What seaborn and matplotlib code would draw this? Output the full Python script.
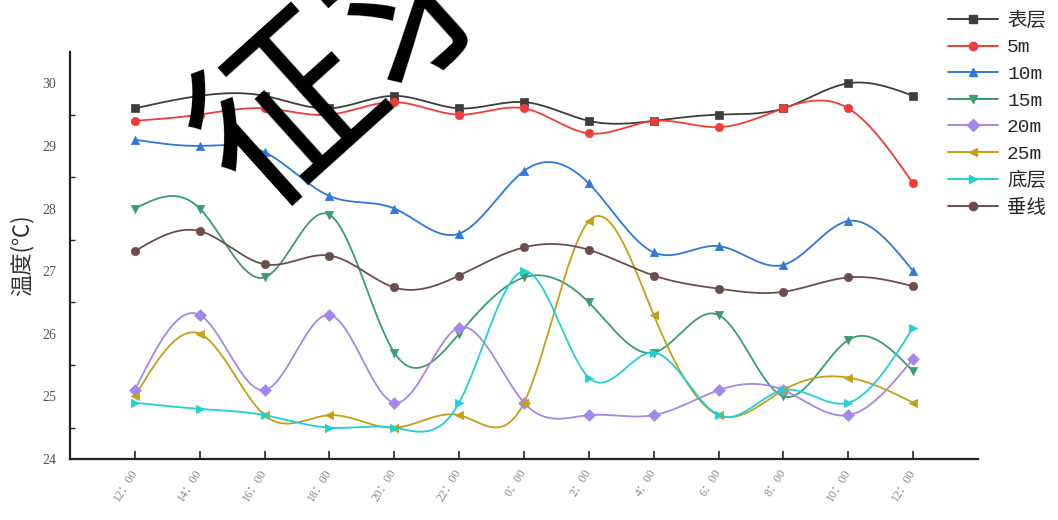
import numpy as np
import pandas as pd
import matplotlib
matplotlib.use("Agg")
import matplotlib.pyplot as plt
from matplotlib.lines import Line2D
from matplotlib.transforms import ScaledTranslation
import seaborn as sns

times = ["12：00", "14：00", "16：00", "18：00", "20：00", "22：00", "0：00",
         "2：00", "4：00", "6：00", "8：00", "10：00", "12：00"]
series_names = ["表层", "5m", "10m", "15m", "20m", "25m", "底层", "垂线"]
surface = [29.6, 29.8, 29.8, 29.6, 29.8, 29.6, 29.7, 29.4, 29.4, 29.5, 29.6, 30.0, 29.8]
d5 = [29.4, 29.5, 29.6, 29.5, 29.7, 29.5, 29.6, 29.2, 29.4, 29.3, 29.6, 29.6, 28.4]
d10 = [29.1, 29.0, 28.9, 28.2, 28.0, 27.6, 28.6, 28.4, 27.3, 27.4, 27.1, 27.8, 27.0]
d15 = [28.0, 28.0, 26.9, 27.9, 25.7, 26.0, 26.9, 26.5, 25.7, 26.3, 25.0, 25.9, 25.4]
d20 = [25.1, 26.3, 25.1, 26.3, 24.9, 26.1, 24.9, 24.7, 24.7, 25.1, 25.1, 24.7, 25.6]
d25 = [25.0, 26.0, 24.7, 24.7, 24.5, 24.7, 24.9, 27.8, 26.3, 24.7, 25.1, 25.3, 24.9]
bottom = [24.9, 24.8, 24.7, 24.5, 24.5, 24.9, 27.0, 25.3, 25.7, 24.7, 25.1, 24.9, 26.1]
vertical = [27.32, 27.64, 27.11, 27.25, 26.74, 26.93, 27.38, 27.34, 26.93, 26.72, 26.67, 26.9, 26.76]

all_values = [surface, d5, d10, d15, d20, d25, bottom, vertical]
colors = ["#3d3d3d", "#f03c3a", "#2d78d8", "#3a9c70", "#a586ea", "#c4a014", "#22d0d4", "#6e4c4c"]
markers = ["s", "o", "^", "v", "D", "<", ">", "o"]

sns.set_theme(style="white")
plt.rcParams["font.family"] = ["Liberation Serif", "Noto Sans CJK SC", "DejaVu Sans"]
plt.rcParams["axes.unicode_minus"] = False


def natural_spline(x, y, n=400):
    x = np.asarray(x, float)
    y = np.asarray(y, float)
    m = len(x)
    h = np.diff(x)
    A = np.zeros((m, m))
    b = np.zeros(m)
    A[0, 0] = 1
    A[-1, -1] = 1
    for i in range(1, m - 1):
        A[i, i - 1] = h[i - 1]
        A[i, i] = 2 * (h[i - 1] + h[i])
        A[i, i + 1] = h[i]
        b[i] = 6 * ((y[i + 1] - y[i]) / h[i] - (y[i] - y[i - 1]) / h[i - 1])
    M = np.linalg.solve(A, b)
    xs = np.linspace(x[0], x[-1], n)
    idx = np.clip(np.searchsorted(x, xs) - 1, 0, m - 2)
    x0, x1 = x[idx], x[idx + 1]
    hh = x1 - x0
    t0 = x1 - xs
    t1 = xs - x0
    ys = (M[idx] * t0 ** 3 + M[idx + 1] * t1 ** 3) / (6 * hh) \
        + (y[idx] / hh - M[idx] * hh / 6) * t0 + (y[idx + 1] / hh - M[idx + 1] * hh / 6) * t1
    return xs, ys


fig = plt.figure(figsize=(10.58, 5.2), dpi=100)
ax = fig.add_axes([70 / 1058, 1 - 459 / 520, (978 - 70) / 1058, (459 - 52) / 520])

xpos = np.arange(len(times))
handles = []
for name, vals, c, mk in zip(series_names, all_values, colors, markers):
    xs, ys = natural_spline(xpos, vals)
    sns.lineplot(x=xs, y=ys, ax=ax, color=c, linewidth=1.3, sort=False)
    sns.scatterplot(x=xpos, y=vals, ax=ax, color=c, marker=mk, s=36,
                    edgecolor=c, linewidth=0.5, zorder=5)
    handles.append(Line2D([0], [0], color=c, marker=mk, markersize=6, linewidth=1.4, label=name))

ax.set_xlim(-1, 13)
ax.set_ylim(24, 30.5)
ax.set_xticks(xpos)
ax.set_xticklabels(times, rotation=58, ha="right", va="center", rotation_mode="anchor",
                   fontsize=8.5, color="#888888")
shift = ScaledTranslation(9 / 100, -4 / 100, fig.dpi_scale_trans)
for lab in ax.get_xticklabels():
    lab.set_transform(lab.get_transform() + shift)
ax.set_yticks([24, 25, 26, 27, 28, 29, 30])
ax.set_yticks(np.arange(24.5, 30.5, 1.0), minor=True)
ax.tick_params(axis="y", which="major", direction="in", length=6, width=1.2,
               labelsize=10, labelcolor="#555555", pad=10)
ax.tick_params(axis="y", which="minor", direction="in", length=3.5, width=1.0, left=True)
ax.tick_params(axis="x", which="major", direction="in", length=6, width=1.2, pad=8, bottom=True)
for s in ["top", "right"]:
    ax.spines[s].set_visible(False)
for s in ["left", "bottom"]:
    ax.spines[s].set_color("#222222")
    ax.spines[s].set_linewidth(1.6)
ax.set_xlabel("")
ax.set_ylabel("温度(℃)", fontsize=16, color="#333333", labelpad=6,
              family=["Noto Sans CJK SC", "DejaVu Sans"])
ax.grid(False)

fig.legend(handles=handles, loc="upper left", bbox_to_anchor=(940 / 1058, 0.992),
           frameon=False, handlelength=2.6, labelspacing=0.46,
           handletextpad=0.45, borderaxespad=0,
           prop={"family": ["Liberation Mono", "Noto Sans CJK SC", "DejaVu Sans"], "size": 14})

fig.text(223 / 1058, 1 - 175 / 520, "征求意见稿", fontsize=130, rotation=42,
         rotation_mode="anchor", ha="left", va="center", color="black",
         family=["Noto Sans CJK SC"], fontweight="normal", zorder=20)

fig.savefig("out.png", dpi=100)
